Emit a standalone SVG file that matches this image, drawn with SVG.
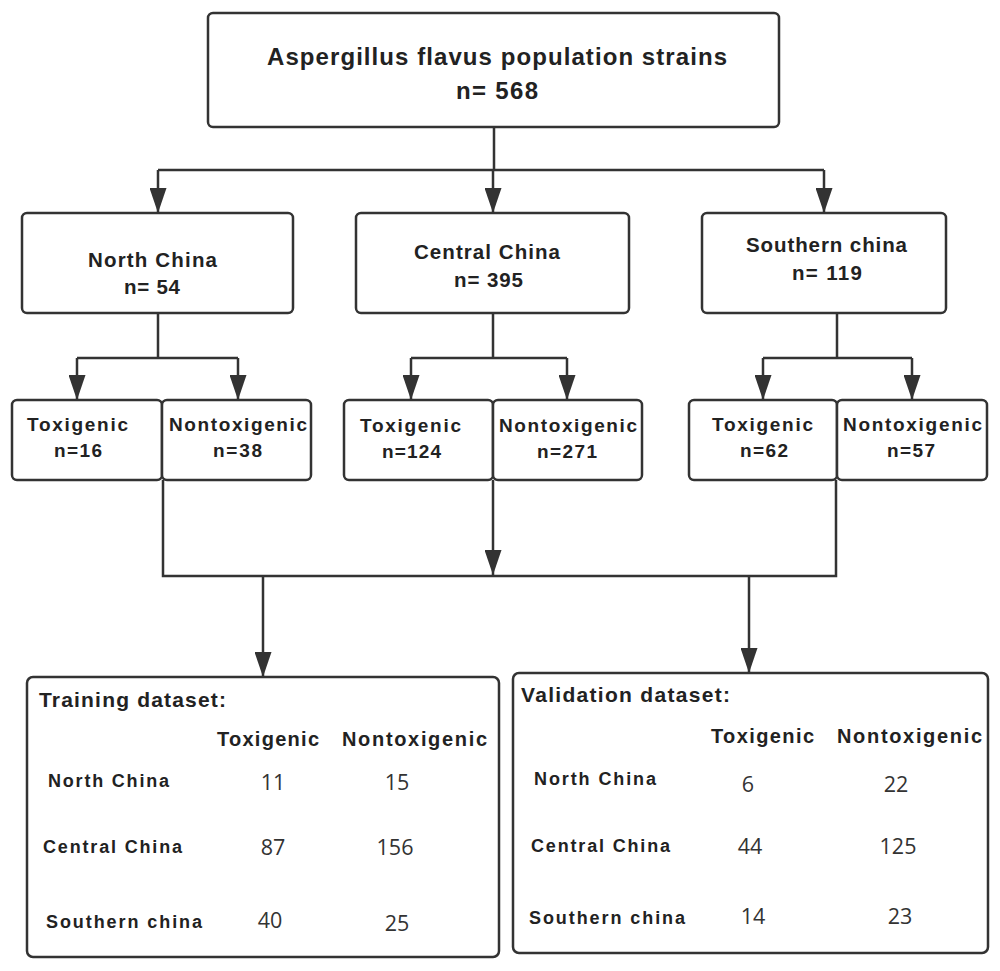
<svg xmlns="http://www.w3.org/2000/svg" width="1000" height="971" viewBox="0 0 1000 971">
<defs>
<marker id="arr" viewBox="0 0 25 17" refX="25" refY="8.5" markerWidth="25" markerHeight="17" markerUnits="userSpaceOnUse" orient="auto">
<path d="M0,0 L25,8.5 L0,17 z" fill="#333"/>
</marker>
<style>
.box{fill:#fff;stroke:#333;stroke-width:2.5}
.ln{fill:none;stroke:#333;stroke-width:2.5}
.t{font-family:"Liberation Sans",Arial,sans-serif;font-weight:bold;fill:#222}
.num{font-family:"Open Sans","Liberation Sans",sans-serif;fill:#333;font-size:21.5px;text-anchor:middle}
</style>
</defs>
<rect width="1000" height="971" fill="#fff"/>

<g id="connectors">
<path class="ln" d="M494,127 V170 M158,170 H824"/>
<path class="ln" d="M158,170 V213" marker-end="url(#arr)"/>
<path class="ln" d="M493,170 V213" marker-end="url(#arr)"/>
<path class="ln" d="M824,170 V213" marker-end="url(#arr)"/>
<path class="ln" d="M158,313 V358 M77,358 H238"/>
<path class="ln" d="M77,358 V400" marker-end="url(#arr)"/>
<path class="ln" d="M238,358 V400" marker-end="url(#arr)"/>
<path class="ln" d="M493,313 V358 M411,358 H567"/>
<path class="ln" d="M411,358 V400" marker-end="url(#arr)"/>
<path class="ln" d="M567,358 V400" marker-end="url(#arr)"/>
<path class="ln" d="M837,313 V358 M763,358 H912"/>
<path class="ln" d="M763,358 V400" marker-end="url(#arr)"/>
<path class="ln" d="M912,358 V400" marker-end="url(#arr)"/>
<path class="ln" d="M163,480 V576 H836 V480"/>
<path class="ln" d="M493,480 V575" marker-end="url(#arr)"/>
<path class="ln" d="M263,576 V677" marker-end="url(#arr)"/>
<path class="ln" d="M749,576 V673" marker-end="url(#arr)"/>
</g>

<g id="root">
<rect class="box" x="208" y="13" width="571" height="114" rx="5"/>
<text class="t" x="267" y="65" font-size="24" textLength="460" lengthAdjust="spacing">Aspergillus flavus population strains</text>
<text class="t" x="456" y="99" font-size="24" textLength="82" lengthAdjust="spacing">n= 568</text>
</g>

<g id="north">
<rect class="box" x="22" y="213" width="271" height="100" rx="5"/>
<text class="t" x="88" y="267" font-size="20.5" textLength="129" lengthAdjust="spacing">North China</text>
<text class="t" x="124" y="294" font-size="20.5" textLength="56" lengthAdjust="spacing">n= 54</text>
</g>
<g id="central">
<rect class="box" x="356" y="213" width="273" height="100" rx="5"/>
<text class="t" x="414" y="259" font-size="20.5" textLength="146" lengthAdjust="spacing">Central China</text>
<text class="t" x="454" y="287" font-size="20.5" textLength="69" lengthAdjust="spacing">n= 395</text>
</g>
<g id="southern">
<rect class="box" x="702" y="213" width="244" height="100" rx="5"/>
<text class="t" x="746" y="252" font-size="20.5" textLength="161" lengthAdjust="spacing">Southern china</text>
<text class="t" x="792" y="280" font-size="20.5" textLength="70" lengthAdjust="spacing">n= 119</text>
</g>

<g id="north-tox">
<rect class="box" x="12" y="400" width="150" height="80" rx="5"/>
<text class="t" x="27" y="431" font-size="19" textLength="101" lengthAdjust="spacing">Toxigenic</text>
<text class="t" x="54" y="457" font-size="19" textLength="48" lengthAdjust="spacing">n=16</text>
</g>
<g id="north-nontox">
<rect class="box" x="162" y="400" width="149" height="80" rx="5"/>
<text class="t" x="169" y="431" font-size="19" textLength="138" lengthAdjust="spacing">Nontoxigenic</text>
<text class="t" x="213" y="457" font-size="19" textLength="49" lengthAdjust="spacing">n=38</text>
</g>
<g id="central-tox">
<rect class="box" x="344" y="400" width="149" height="80" rx="5"/>
<text class="t" x="360" y="432" font-size="19" textLength="101" lengthAdjust="spacing">Toxigenic</text>
<text class="t" x="382" y="458" font-size="19" textLength="59" lengthAdjust="spacing">n=124</text>
</g>
<g id="central-nontox">
<rect class="box" x="493" y="400" width="149" height="80" rx="5"/>
<text class="t" x="499" y="432" font-size="19" textLength="138" lengthAdjust="spacing">Nontoxigenic</text>
<text class="t" x="537" y="458" font-size="19" textLength="60" lengthAdjust="spacing">n=271</text>
</g>
<g id="southern-tox">
<rect class="box" x="689" y="400" width="148" height="80" rx="5"/>
<text class="t" x="712" y="431" font-size="19" textLength="101" lengthAdjust="spacing">Toxigenic</text>
<text class="t" x="740" y="457" font-size="19" textLength="48" lengthAdjust="spacing">n=62</text>
</g>
<g id="southern-nontox">
<rect class="box" x="837" y="400" width="150" height="80" rx="5"/>
<text class="t" x="843" y="431" font-size="19" textLength="139" lengthAdjust="spacing">Nontoxigenic</text>
<text class="t" x="887" y="457" font-size="19" textLength="48" lengthAdjust="spacing">n=57</text>
</g>

<g id="training">
<rect class="box" x="27" y="677" width="472" height="280" rx="6"/>
<text class="t" x="39" y="707" font-size="21" textLength="187" lengthAdjust="spacing">Training dataset:</text>
<text class="t" x="217" y="746" font-size="20" textLength="102" lengthAdjust="spacing">Toxigenic</text>
<text class="t" x="342" y="746" font-size="20" textLength="145" lengthAdjust="spacing">Nontoxigenic</text>
<text class="t" x="48" y="787" font-size="18" textLength="121" lengthAdjust="spacing">North China</text>
<text class="t" x="43" y="853" font-size="18" textLength="139" lengthAdjust="spacing">Central China</text>
<text class="t" x="46" y="928" font-size="18" textLength="156" lengthAdjust="spacing">Southern china</text>
<text class="num" x="273" y="790">11</text>
<text class="num" x="397" y="790">15</text>
<text class="num" x="273" y="855">87</text>
<text class="num" x="395" y="855">156</text>
<text class="num" x="270" y="928">40</text>
<text class="num" x="397" y="931">25</text>
</g>

<g id="validation">
<rect class="box" x="513" y="673" width="475" height="280" rx="6"/>
<text class="t" x="521" y="702" font-size="21" textLength="209" lengthAdjust="spacing">Validation dataset:</text>
<text class="t" x="711" y="743" font-size="20" textLength="103" lengthAdjust="spacing">Toxigenic</text>
<text class="t" x="837" y="743" font-size="20" textLength="145" lengthAdjust="spacing">Nontoxigenic</text>
<text class="t" x="534" y="785" font-size="18" textLength="122" lengthAdjust="spacing">North China</text>
<text class="t" x="531" y="852" font-size="18" textLength="139" lengthAdjust="spacing">Central China</text>
<text class="t" x="529" y="924" font-size="18" textLength="156" lengthAdjust="spacing">Southern china</text>
<text class="num" x="748" y="792">6</text>
<text class="num" x="896" y="792">22</text>
<text class="num" x="750" y="854">44</text>
<text class="num" x="898" y="854">125</text>
<text class="num" x="753" y="924">14</text>
<text class="num" x="900" y="924">23</text>
</g>
</svg>
